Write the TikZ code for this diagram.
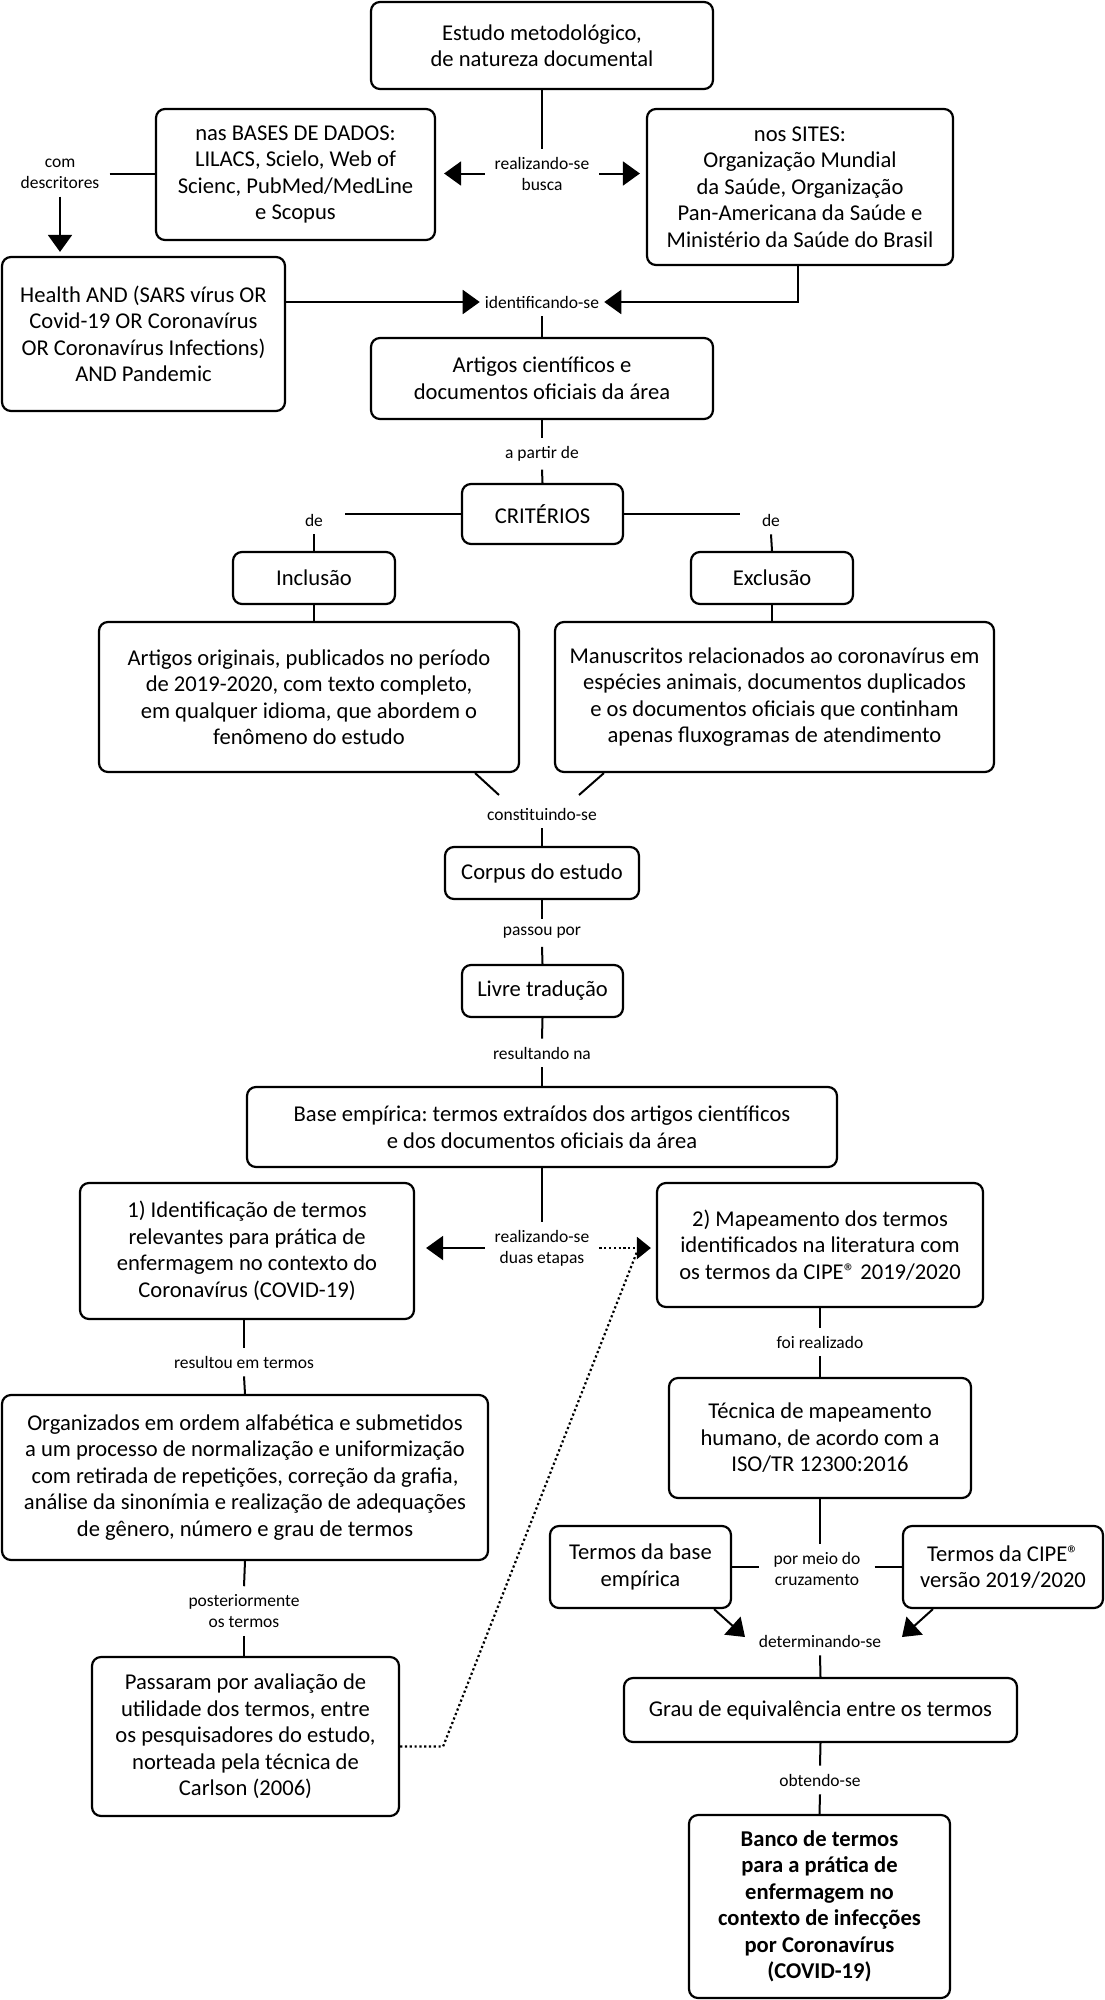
\documentclass[tikz,border=0pt]{standalone}
\usepackage{fontspec}
\setmainfont{Carlito}
\usetikzlibrary{arrows.meta,calc}
\newcommand{\regmark}{®}
\begin{document}
\frenchspacing
\begin{tikzpicture}[x=1pt,y=-1pt,
 box/.style={draw, line width=2.2pt, rounded corners=9pt, align=center, inner sep=0pt, font=\fontsize{22.6}{26.5}\selectfont},
 lbl/.style={align=center, inner xsep=10pt, inner ysep=8pt, font=\fontsize{17.5}{21}\selectfont},
 con/.style={line width=2pt},
 arr/.style={line width=2pt, -{Triangle[length=17pt,width=24pt]}},
 dots/.style={line width=2.2pt, dash pattern=on 2.2pt off 2.6pt}
]
\useasboundingbox[fill=white] (0,0) rectangle (1105,2000);

% boxes
\node[box, minimum width=342pt, minimum height=87pt] (estudo) at (542,45.5) {Estudo metodológico,\\de natureza documental};
\node[box, minimum width=279pt, minimum height=131pt] (bases) at (295.5,174.5) {nas BASES DE DADOS:\\LILACS, Scielo, Web of\\Scienc, PubMed/MedLine\\e Scopus};
\node[box, minimum width=306pt, minimum height=156pt] (sites) at (800,187) {nos SITES:\\Organização Mundial\\da Saúde, Organização\\Pan-Americana da Saúde e\\Ministério da Saúde do Brasil};
\node[box, minimum width=283pt, minimum height=154pt] (health) at (143.5,334) {Health AND (SARS vírus OR\\Covid-19 OR Coronavírus\\OR Coronavírus Infections)\\AND Pandemic};
\node[box, minimum width=342pt, minimum height=81pt] (artigos) at (542,378.5) {Artigos científicos e\\documentos oficiais da área};
\node[box, minimum width=161pt, minimum height=60pt] (criterios) at (542.5,514) {CRITÉRIOS};
\node[box, minimum width=162pt, minimum height=52pt] (inclusao) at (314,578) {Inclusão};
\node[box, minimum width=162pt, minimum height=52pt] (exclusao) at (772,578) {Exclusão};
\node[box, minimum width=420pt, minimum height=150pt] (incbig) at (309,697) {Artigos originais, publicados no período\\de 2019-2020, com texto completo,\\em qualquer idioma, que abordem o\\fenômeno do estudo};
\node[box, minimum width=439pt, minimum height=150pt] (excbig) at (774.5,697) {Manuscritos relacionados ao coronavírus em\\espécies animais, documentos duplicados\\e os documentos oficiais que continham\\apenas fluxogramas de atendimento};
\node[box, minimum width=194pt, minimum height=52pt] (corpus) at (542,873) {Corpus do estudo};
\node[box, minimum width=161pt, minimum height=52pt] (livre) at (542.5,991) {Livre tradução};
\node[box, minimum width=590pt, minimum height=80pt] (base) at (542,1127) {Base empírica: termos extraídos dos artigos científicos\\e dos documentos oficiais da área};
\node[box, minimum width=334pt, minimum height=136pt] (etapa1) at (247,1251) {1) Identificação de termos\\relevantes para prática de\\enfermagem no contexto do\\Coronavírus (COVID-19)};
\node[box, minimum width=326pt, minimum height=124pt] (etapa2) at (820,1245) {2) Mapeamento dos termos\\identificados na literatura com\\os termos da CIPE\regmark{} 2019/2020};
\node[box, minimum width=486pt, minimum height=165pt] (organizados) at (245,1477.5) {Organizados em ordem alfabética e submetidos\\a um processo de normalização e uniformização\\com retirada de repetições, correção da grafia,\\análise da sinonímia e realização de adequações\\de gênero, número e grau de termos};
\node[box, minimum width=307pt, minimum height=159pt] (passaram) at (245.5,1736.5) {Passaram por avaliação de\\utilidade dos termos, entre\\os pesquisadores do estudo,\\norteada pela técnica de\\Carlson (2006)};
\node[box, minimum width=302pt, minimum height=120pt] (tecnica) at (820,1438) {Técnica de mapeamento\\humano, de acordo com a\\ISO/TR 12300:2016};
\node[box, minimum width=181pt, minimum height=82pt] (tbase) at (640.5,1567) {Termos da base\\empírica};
\node[box, minimum width=200pt, minimum height=82pt] (tcipe) at (1003,1567) {Termos da CIPE\regmark\\versão 2019/2020};
\node[box, minimum width=393pt, minimum height=64pt] (grau) at (820.5,1710) {Grau de equivalência entre os termos};
\node[box, minimum width=261pt, minimum height=183pt, font=\fontsize{22.6}{26.5}\selectfont\bfseries] (banco) at (819.5,1906.5) {Banco de termos\\para a prática de\\enfermagem no\\contexto de infecções\\por Coronavírus\\(COVID-19)};

% labels
\node[lbl] (comdesc) at (60,173.5) {com\\descritores};
\node[lbl, inner xsep=10pt] (busca) at (542,173.5) {realizando-se\\busca};
\node[lbl, inner xsep=5pt] (ident) at (542,302) {identificando-se};
\node[lbl] (apartir) at (542,454) {a partir de};
\node[lbl, inner xsep=22pt] (deL) at (314,520) {de};
\node[lbl, inner xsep=22pt] (deR) at (771,520) {de};
\node[lbl] (constit) at (542,814) {constituindo-se};
\node[lbl] (passou) at (542,933) {passou por};
\node[lbl] (result) at (542,1053) {resultando na};
\node[lbl, inner xsep=10pt] (etapas) at (542,1248) {realizando-se\\duas etapas};
\node[lbl] (resultou) at (244,1362) {resultou em termos};
\node[lbl] (posterior) at (244,1611) {posteriormente\\os termos};
\node[lbl] (foireal) at (820,1342) {foi realizado};
\node[lbl, inner xsep=14pt] (pormeio) at (817,1568.5) {por meio do\\cruzamento};
\node[lbl] (determ) at (820,1641) {determinando-se};
\node[lbl] (obtendo) at (820,1780) {obtendo-se};

% connectors
\draw[con] (estudo.south) -- (busca.north);
\draw[arr, shorten >=8pt] (busca.west) -- (busca.west -| bases.east);
\draw[arr, shorten >=6pt] (busca.east) -- (busca.east -| sites.west);
\draw[con] (comdesc.east) -- (comdesc.east -| bases.west);
\draw[arr, shorten >=4pt] (comdesc.south) -- (comdesc.south |- health.north);
\draw[arr] (health.east |- ident.west) -- (ident.west);
\draw[arr] ([xshift=-2pt]sites.south) |- (ident.east);
\draw[con] (ident.south) -- (artigos.north);
\draw[con] (artigos.south) -- (apartir.north);
\draw[con] (apartir.south) -- (criterios.north);
\draw[con] (criterios.west) -- (deL.east |- criterios.west);
\draw[con] (criterios.east) -- (deR.west |- criterios.east);
\draw[con] (deL.south) -- (inclusao.north);
\draw[con] (deR.south) -- (exclusao.north);
\draw[con] (inclusao.south) -- (inclusao.south |- incbig.north);
\draw[con] (exclusao.south) -- (exclusao.south |- excbig.north);
\draw[con] ($(incbig.south east)+(-45,0)$) -- ($(constit)+(-43,-19)$);
\draw[con] ($(excbig.south west)+(50,0)$) -- ($(constit)+(37,-19)$);
\draw[con] (constit.south) -- (corpus.north);
\draw[con] (corpus.south) -- (passou.north);
\draw[con] (passou.south) -- (livre.north);
\draw[con] (livre.south) -- (result.north);
\draw[con] (result.south) -- (base.north);
\draw[con] (base.south) -- (etapas.north);
\draw[arr, shorten >=11pt] (etapas.west) -- (etapas.west -| etapa1.east);
\draw[dots, -{Triangle[length=14pt,width=22pt]}, shorten >=5pt] (etapas.east) -- (etapas.east -| etapa2.west);
\coordinate (dj) at ($(etapa2.west)+(-19,7)$);
\coordinate (dp) at ($(passaram.east)+(43,10)$);
\draw[dots] ($(passaram.east)+(0,10)$) -- (dp) -- (dj);
\draw[con] ([xshift=-3pt]etapa1.south) -- (resultou.north);
\draw[con] (resultou.south) -- (organizados.north);
\draw[con] (organizados.south) -- (posterior.north);
\draw[con] (posterior.south) -- (posterior.south |- passaram.north);
\draw[con] (etapa2.south) -- (foireal.north);
\draw[con] (foireal.south) -- (tecnica.north);
\draw[con] (tecnica.south) -- (tecnica.south |- pormeio.north);
\draw[con] (tbase.east) -- (tbase.east -| pormeio.west);
\draw[con] (pormeio.east |- tcipe.west) -- (tcipe.west);
\draw[arr] ($(tbase.south east)+(-18,0)$) -- ($(determ)+(-75,-4)$);
\draw[arr] ($(tcipe.south west)+(31,0)$) -- ($(determ)+(82,-4)$);
\draw[con] (determ.south) -- (grau.north);
\draw[con] (grau.south) -- (obtendo.north);
\draw[con] (obtendo.south) -- (banco.north);
\end{tikzpicture}
\end{document}
